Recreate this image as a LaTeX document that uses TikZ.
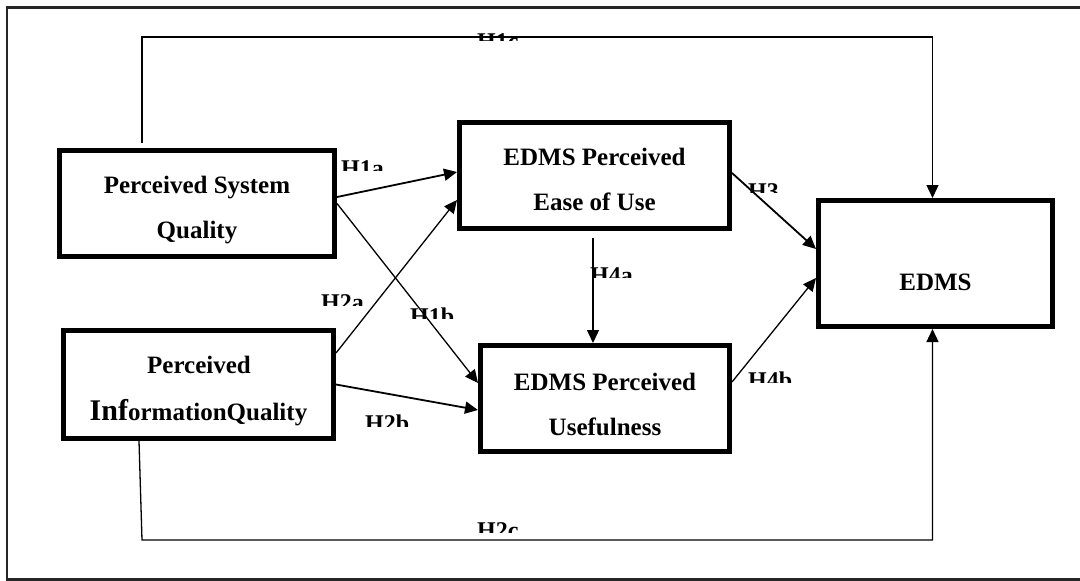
\documentclass[tikz,border=0pt]{standalone}
\usepackage{fontspec}
\setmainfont{Liberation Serif}
\usetikzlibrary{arrows.meta}

\tikzset{
  box/.style={draw, line width=5pt, inner sep=0pt},
  txt/.style={anchor=base, inner sep=0pt, font=\fontsize{25pt}{30pt}\selectfont\bfseries},
  hlab/.style={inner sep=0pt, font=\fontsize{24pt}{28pt}\selectfont\bfseries},
  link/.style={line width=1.3pt},
  boldlink/.style={line width=1.8pt},
  tip/.style={-{Triangle[length=13pt,width=12pt]}},
  frame/.style={line width=2.2pt, draw=black!85},
}

% hypothesis label whose lower part is cut away: name, left x, top y, cut y, text
\newcommand\cutlabel[5]{%
  \begin{scope}
    \clip (#2-3,#3-3) rectangle (#2+60,#4);
    \node[hlab, anchor=north west] (#1) at (#2,#3) {#5};
  \end{scope}}

\begin{document}
\begin{tikzpicture}[x=1pt,y=-1pt]
\useasboundingbox (0,0) rectangle (1080,581);

% outer frame (open to the right)
\draw[frame] (1082,7.5) -- (7,7.5) -- (7,579.5) -- (1082,579.5);

% constructs
\node[box, minimum width=275pt, minimum height=106pt] (psq)  at (197,203.5) {};
\node[box, minimum width=270pt, minimum height=108pt] (piq)  at (198.5,384.5) {};
\node[box, minimum width=270pt, minimum height=106pt] (epeu) at (594.5,175.5) {};
\node[box, minimum width=249pt, minimum height=106pt] (epu)  at (605,398.5) {};
\node[box, minimum width=234pt, minimum height=126pt] (edms) at (935.5,263.5) {};

% construct names
\node[txt] (psq1)  at (197,193)   {Perceived System};
\node[txt] (psq2)  at (197,238)   {Quality};
\node[txt] (piq1)  at (199,373)   {Perceived};
\node[txt] (piq2)  at (198.5,420) {{\fontsize{30pt}{30pt}\selectfont Inf}ormationQuality};
\node[txt] (epeu1) at (594.5,165) {EDMS Perceived};
\node[txt] (epeu2) at (594.5,210) {Ease of Use};
\node[txt] (epu1)  at (605,390)   {EDMS Perceived};
\node[txt] (epu2)  at (605,435)   {Usefulness};
\node[txt] (edms1) at (935.5,290) {EDMS};

% routing points of the long paths
\coordinate (topy) at (0,37);
\coordinate (boty) at (0,540);
\coordinate (h1cs) at ([xshift=-55pt,yshift=5pt]psq.north);
\coordinate (h1ce) at ([xshift=-3pt]edms.north);
\coordinate (h2cs) at ([xshift=-59.5pt]piq.south);
\coordinate (h2cb) at (142,540);
\coordinate (h2ce) at ([xshift=-3pt]edms.south);
\coordinate (h4as) at ([xshift=-1.5pt,yshift=-7pt]epeu.south);

% hypotheses
\draw[link, tip] (h1cs) |- (topy -| h1ce) -- (h1ce);
\draw[link, tip] (h2cs) -- (h2cb) -- (boty -| h2ce) -- (h2ce);
\draw[boldlink, tip] ([yshift=6.5pt]psq.east) -- ([yshift=3.5pt]epeu.west);
\draw[link, tip] ([yshift=31.5pt]piq.east) -- ([yshift=-24.5pt]epeu.west);
\draw[link, tip] (psq.east) -- ([yshift=15.5pt]epu.west);
\draw[boldlink, tip] (piq.east) -- ([yshift=-11.5pt]epu.west);
\draw[boldlink, tip] ([yshift=2.5pt]epeu.east) -- ([yshift=14.5pt]edms.west);
\draw[link, tip] ([yshift=16.5pt]epu.east) -- ([yshift=-14.5pt]edms.west);
\draw[link, tip] (h4as) -- ([xshift=-12pt]epu.north);

% hypothesis labels
\cutlabel{lh1c}{477}{33}{40.5}{H1c}
\cutlabel{lh1a}{341}{160}{170}{H1a}
\cutlabel{lh2a}{321}{294}{305}{H2a}
\cutlabel{lh1b}{410}{308}{318.5}{H1b}
\cutlabel{lh2b}{365}{415}{426}{H2b}
\cutlabel{lh3}{748}{183}{192.5}{H3}
\cutlabel{lh4a}{590}{267}{277}{H4a}
\cutlabel{lh4b}{748}{372}{382}{H4b}
\cutlabel{lh2c}{477}{522}{532}{H2c}
\end{tikzpicture}
\end{document}
